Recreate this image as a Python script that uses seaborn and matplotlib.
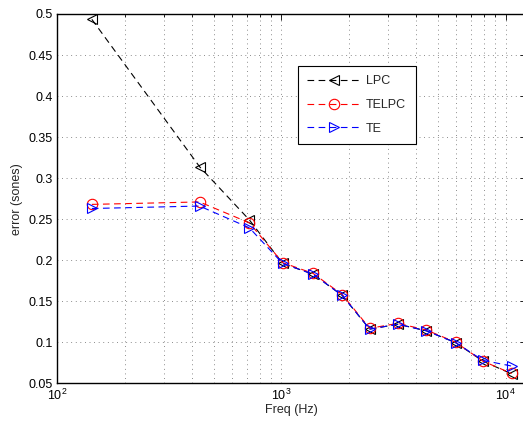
import numpy as np
import pandas as pd
import matplotlib
matplotlib.use("Agg")
import matplotlib.pyplot as plt
import seaborn as sns
from matplotlib.ticker import LogLocator, FixedLocator

freq = [143, 432, 721, 1014, 1384, 1871, 2477, 3311, 4430, 5985, 7920, 10640]
lpc = [0.4935, 0.314, 0.249, 0.196, 0.183, 0.157, 0.116, 0.122, 0.114, 0.0996, 0.077, 0.0615]
telpc = [0.268, 0.271, 0.2455, 0.197, 0.184, 0.158, 0.117, 0.123, 0.115, 0.100, 0.077, 0.062]
te = [0.263, 0.266, 0.2394, 0.196, 0.183, 0.157, 0.116, 0.122, 0.114, 0.0996, 0.078, 0.071]
series_names = ["LPC", "TELPC", "TE"]
y_ticks = [0.05, 0.1, 0.15, 0.2, 0.25, 0.3, 0.35, 0.4, 0.45, 0.5]

sns.set_style("white")
plt.rcParams['font.family'] = ['Liberation Sans', 'DejaVu Sans']
plt.rcParams['mathtext.fontset'] = 'custom'
plt.rcParams['mathtext.rm'] = 'Liberation Sans'
plt.rcParams['mathtext.it'] = 'Liberation Sans'
plt.rcParams['mathtext.bf'] = 'Liberation Sans'

fig = plt.figure(figsize=(5.23, 4.21), dpi=100)
W, H = 523, 421
left_px, right_px, top_px, bot_px = 57.0, 526.0, 14.0, 383.3
ax = fig.add_axes([left_px / W, 1 - bot_px / H, (right_px - left_px) / W, (bot_px - top_px) / H])

df = pd.DataFrame({"freq": freq, "LPC": lpc, "TELPC": telpc, "TE": te})
styles = {"LPC": ("black", "<"), "TELPC": ("red", "o"), "TE": ("blue", ">")}
for name in series_names:
    c, m = styles[name]
    sns.lineplot(data=df, x="freq", y=name, ax=ax, color=c, marker=m,
                 markersize=7.5, markerfacecolor="none", markeredgecolor=c,
                 markeredgewidth=0.8, linewidth=0.8, linestyle=(0, (6, 4)),
                 label=name)

ax.set_xscale("log")
decades = (right_px - left_px) / 224.3
ax.set_xlim(100, 10 ** (2 + decades))
ax.set_ylim(0.05, 0.5)
ax.yaxis.set_major_locator(FixedLocator(y_ticks))
ax.set_yticklabels([("%g" % v) for v in y_ticks])
ax.xaxis.set_major_locator(LogLocator(base=10, numticks=10))
ax.xaxis.set_minor_locator(LogLocator(base=10, subs=np.arange(2, 10), numticks=20))

gstyle = dict(color="#666666", linestyle=(0, (1, 4.5)), linewidth=0.6)
ax.grid(True, which="major", axis="both", **gstyle)
ax.grid(True, which="minor", axis="x", **gstyle)
ax.set_axisbelow(True)

ax.tick_params(axis="both", which="both", direction="in", top=True, right=True,
               labelsize=9, colors="black")
ax.tick_params(which="major", length=4, width=0.6, pad=3)
ax.tick_params(which="minor", length=2, width=0.6)
for s in ax.spines.values():
    s.set_color("black")
    s.set_linewidth(1.0)

ax.set_xlabel("Freq (Hz)", fontsize=9, labelpad=1)
ax.set_ylabel("error (sones)", fontsize=9, labelpad=4)

leg = ax.legend(loc="upper left",
                bbox_to_anchor=((298 - left_px) / (right_px - left_px), 1 - (65.7 - top_px) / (bot_px - top_px)),
                fontsize=9, frameon=True, fancybox=False, edgecolor="black",
                handlelength=4.3, borderpad=0.75, labelspacing=0.95, handletextpad=0.4,
                borderaxespad=0)
leg.get_frame().set_linewidth(0.8)
leg.get_frame().set_alpha(1)

fig.savefig("out.png", dpi=100)
